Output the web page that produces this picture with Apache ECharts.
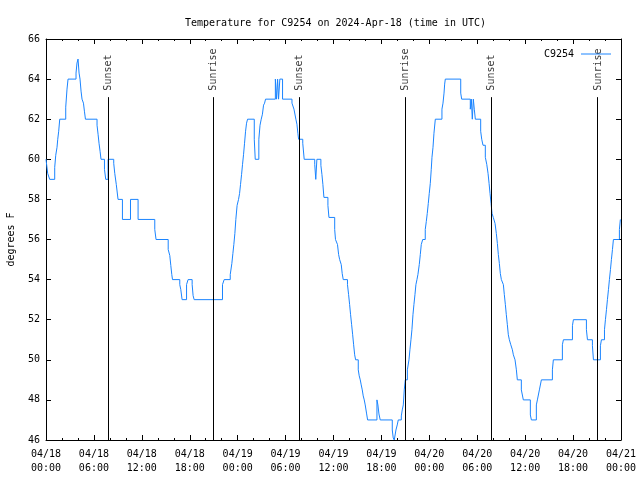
<!DOCTYPE html>
<html>
<head>
<meta charset="utf-8">
<script src="https://cdn.jsdelivr.net/npm/echarts@6/dist/echarts.min.js"></script>
<style>html,body{margin:0;padding:0;background:#fff}#c{width:640px;height:480px}</style>
</head>
<body>
<div id="c"></div>
<script>
// hours since 2024-04-18 00:00 UTC at which the reading changes, and the reading (deg F)
const hours = [0,0.21,0.46,1.09,1.22,1.38,1.47,1.59,1.72,2.47,2.63,2.76,3.76,3.88,4.01,4.14,4.26,4.39,4.51,4.69,4.81,4.94,6.39,6.52,6.64,6.77,6.89,7.32,7.48,7.77,8.48,8.61,8.80,9.02,9.57,10.58,11.53,13.62,13.78,15.30,15.50,15.63,15.75,15.84,16.75,16.88,17.04,17.60,17.79,18.30,18.42,18.55,22.10,22.31,23.07,23.27,23.40,23.52,23.65,23.77,23.93,24.11,24.24,24.36,24.49,24.61,24.74,24.86,24.99,25.11,25.24,26.08,26.20,26.65,26.80,26.95,27.10,27.24,27.37,27.49,28.72,28.87,29.00,29.12,29.28,29.62,30.80,31.05,31.29,31.42,31.54,31.63,32.15,32.33,33.65,33.78,33.92,34.42,34.55,34.67,34.80,35.30,35.43,36.15,36.25,36.50,36.64,36.77,36.97,37.09,37.22,37.75,37.89,38.02,38.14,38.27,38.40,38.52,38.65,38.77,39.10,39.22,39.35,39.47,39.60,39.72,39.85,39.97,40.15,40.27,41.44,41.56,41.69,41.85,43.36,43.48,43.61,43.82,43.98,44.11,44.49,44.61,44.74,44.86,44.99,45.25,45.45,45.57,45.70,45.82,45.95,46.07,46.20,46.32,46.45,46.57,46.74,46.87,46.99,47.17,47.49,47.62,47.74,47.87,47.99,48.12,48.24,48.33,48.46,48.58,48.75,49.58,49.71,49.84,49.92,50.00,51.93,52.05,53.13,53.26,53.38,53.51,53.63,53.76,54.43,54.56,54.72,55.01,55.19,55.35,55.48,55.60,55.73,55.85,56.01,56.23,56.39,56.52,56.64,56.77,56.89,57.02,57.27,57.39,57.52,57.64,57.77,57.89,58.02,58.20,58.40,58.52,58.73,58.90,59.02,59.52,59.77,60.65,60.78,61.40,61.53,61.78,62.03,63.41,63.53,64.66,64.79,65.92,66.04,67.67,67.80,68.42,68.55,69.42,69.55,69.93,70.05,70.18,70.30,70.43,70.55,70.68,70.80,70.93,71.05,71.80,71.92,72.00];
const temps = [60.0,59.3,59.0,59.6,60.2,60.6,61.0,61.4,62.0,62.6,63.5,64.0,64.3,64.8,65.0,64.3,64.0,63.4,63.0,62.8,62.4,62.0,61.7,61.25,60.8,60.4,60.0,59.5,59.0,60.0,59.8,59.3,58.75,58.0,57.0,58.0,57.0,56.5,56.0,55.5,55.2,54.7,54.25,54.0,53.75,53.5,53.0,53.75,54.0,53.75,53.2,53.0,53.75,54.0,54.25,54.8,55.3,55.75,56.3,57.0,57.7,58.0,58.3,58.75,59.25,59.75,60.25,60.8,61.4,61.8,62.0,61.0,60.0,61.0,61.7,62.0,62.25,62.7,62.8,63.0,64.0,63.0,64.0,63.0,64.0,63.0,62.8,62.5,62.0,61.75,61.3,61.0,60.8,60.0,59.75,59.0,60.0,59.7,59.25,58.75,58.1,57.7,57.1,56.5,56.0,55.75,55.25,55.0,54.75,54.3,54.0,53.75,53.25,52.75,52.25,51.75,51.25,50.75,50.25,50.0,49.5,49.2,49.0,48.75,48.5,48.2,48.0,47.75,47.3,47.0,48.0,47.75,47.3,47.0,46.5,46.1,46.0,46.5,46.75,47.0,47.2,47.5,47.75,48.5,49.0,49.5,50.0,50.5,51.0,51.5,52.25,52.75,53.25,53.75,54.0,54.25,54.75,55.25,55.75,56.0,56.5,56.9,57.3,57.8,58.3,58.8,59.5,60.1,60.6,61.3,62.0,62.5,62.8,63.3,63.75,64.0,63.3,63.0,62.5,63.0,62.0,63.0,62.5,62.0,61.4,61.0,60.7,60.1,59.75,59.3,58.8,58.3,57.8,57.3,57.1,56.8,56.3,55.8,55.25,54.8,54.3,54.0,53.75,53.25,52.75,52.25,51.75,51.25,51.0,50.75,50.5,50.25,50.0,49.5,49.0,48.5,48.0,47.25,47.0,47.75,48.0,48.5,49.0,49.5,50.0,50.75,51.0,51.7,52.0,51.5,51.0,50.7,50.0,50.7,51.0,51.5,52.0,52.5,53.0,53.5,54.0,54.5,55.0,55.5,56.0,56.5,57.0,57.0];
// sun events (hours since start)
const sunHours = [7.77, 20.93, 31.70, 44.99, 55.76, 69.05];
const sunNames = ['Sunset', 'Sunrise', 'Sunset', 'Sunrise', 'Sunset', 'Sunrise'];
// x tick labels, one every 6 hours from 0 to 72
const xTickLabels = ['04/18\n00:00','04/18\n06:00','04/18\n12:00','04/18\n18:00','04/19\n00:00','04/19\n06:00','04/19\n12:00','04/19\n18:00','04/20\n00:00','04/20\n06:00','04/20\n12:00','04/20\n18:00','04/21\n00:00'];
const seriesName = 'C9254';
const titleText = 'Temperature for C9254 on 2024-Apr-18 (time in UTC)';
const yName = 'degrees F';

const FONT = 'DejaVu Sans Mono';
const lineData = hours.map((h, i) => [h, temps[i]]);
const sunLineTop = 63.1, sunLabelAt = 63.4;

const chart = echarts.init(document.getElementById('c'), null, {renderer: 'canvas'});
const axisCommon = {
  axisLine: {show: true, onZero: false, lineStyle: {color: '#000', width: 1}},
  axisTick: {show: true, inside: true, length: 5, lineStyle: {color: '#000'}},
  splitLine: {show: false}
};
chart.setOption({
  animation: false,
  backgroundColor: '#fff',
  title: {
    text: titleText, left: 180, top: 13,
    textStyle: {fontFamily: FONT, fontSize: 10, fontWeight: 'normal', color: '#000'}
  },
  legend: {
    data: [{name: seriesName, icon: 'rect'}], right: 24, top: 44, align: 'right',
    itemWidth: 30, itemHeight: 1, itemGap: 10,
    textStyle: {fontFamily: FONT, fontSize: 10, color: '#000', padding: [0, 2, 0, 0]}
  },
  grid: {left: 46, right: 19, top: 39, bottom: 40, containLabel: false, outerBoundsMode: 'none'},
  xAxis: [
    Object.assign({}, axisCommon, {
      type: 'value', min: 0, max: 72, interval: 6, position: 'bottom',
      minorTick: {show: true, splitNumber: 3, length: 2, lineStyle: {color: '#000'}},
      axisLabel: {
        margin: 7, fontFamily: FONT, fontSize: 10, color: '#000', lineHeight: 14,
        formatter: v => xTickLabels[Math.round(v / 6)]
      }
    }),
    Object.assign({}, axisCommon, {
      type: 'value', min: 0, max: 72, interval: 6, position: 'top',
      minorTick: {show: true, splitNumber: 3, length: 2, lineStyle: {color: '#000'}},
      axisLabel: {show: false}
    })
  ],
  yAxis: [
    Object.assign({}, axisCommon, {
      type: 'value', min: 46, max: 66, interval: 2, position: 'left',
      name: yName, nameLocation: 'middle', nameGap: 30, nameRotate: 90,
      nameTextStyle: {fontFamily: FONT, fontSize: 10, color: '#000'},
      axisLabel: {margin: 6, fontFamily: FONT, fontSize: 10, color: '#000'}
    }),
    Object.assign({}, axisCommon, {
      type: 'value', min: 46, max: 66, interval: 2, position: 'right',
      axisLabel: {show: false}
    })
  ],
  series: [
    {
      name: seriesName, type: 'line', step: 'end', data: lineData,
      xAxisIndex: 0, yAxisIndex: 0,
      symbol: 'none', showSymbol: false,
      lineStyle: {color: '#1a84ff', width: 1},
      itemStyle: {color: '#1a84ff'},
      markLine: {
        silent: true, symbol: ['none', 'none'],
        label: {show: false},
        lineStyle: {color: '#000', width: 1, type: 'solid'},
        data: sunHours.map(h => [{coord: [h, 46]}, {coord: [h, sunLineTop]}])
      },
      z: 3
    },
    {
      name: 'sunLabels', type: 'scatter', xAxisIndex: 0, yAxisIndex: 0,
      symbolSize: 1, itemStyle: {color: 'rgba(0,0,0,0)'},
      data: sunHours.map((h, i) => [h, sunLabelAt, sunNames[i]]),
      label: {
        show: true, position: [1, 0], rotate: 90, align: 'left', verticalAlign: 'middle',
        fontFamily: FONT, fontSize: 10, color: '#000',
        formatter: p => p.data[2]
      },
      silent: true
    }
  ]
});
</script>
</body>
</html>
